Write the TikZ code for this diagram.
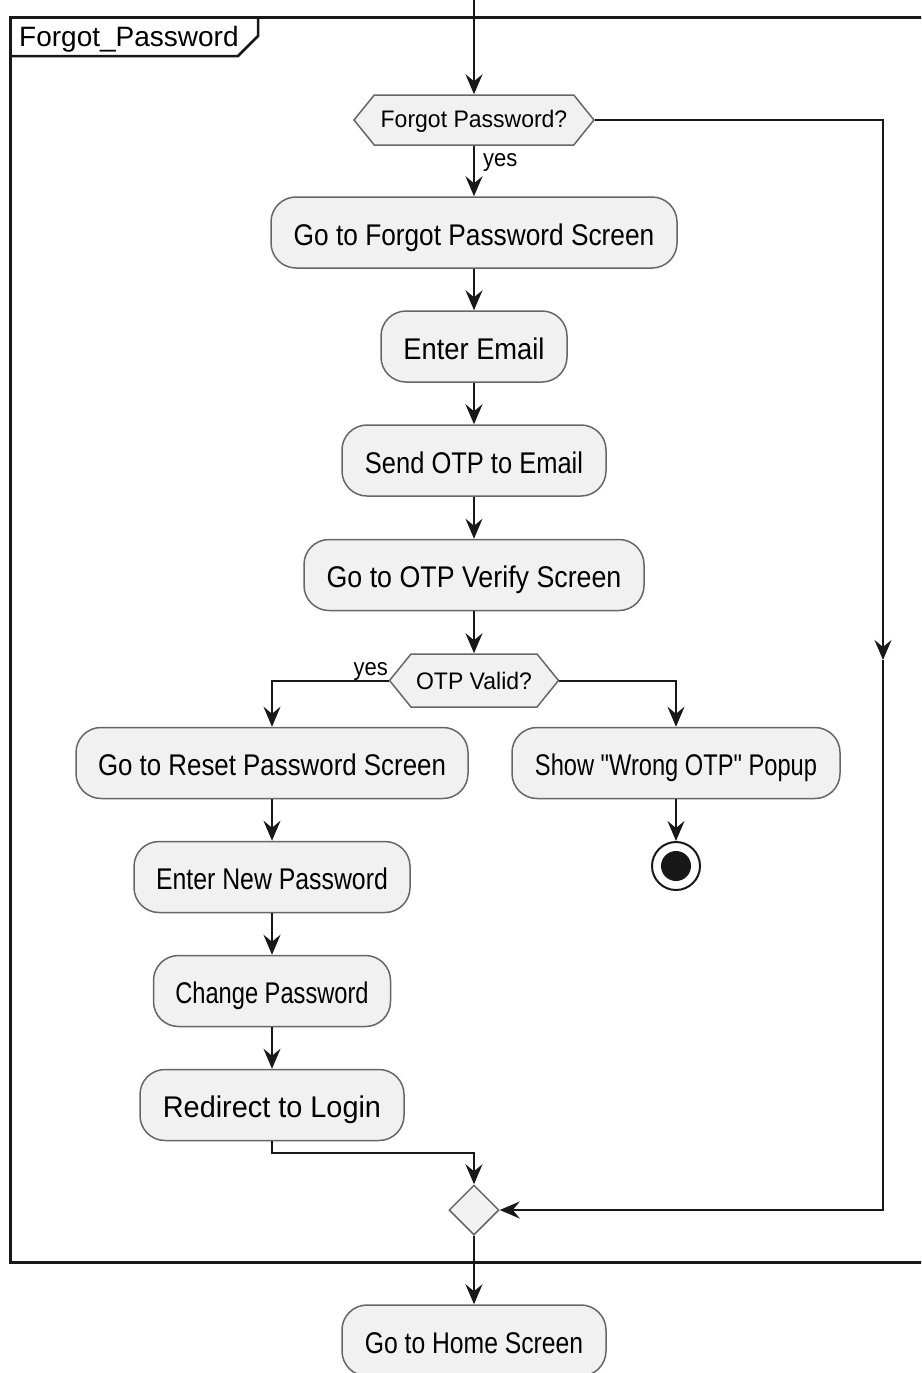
\documentclass[tikz,border=0pt]{standalone}
\usepackage{fontspec}
\setmainfont{Liberation Sans}
\usetikzlibrary{arrows.meta,shapes.symbols,shapes.geometric}
\definecolor{actfill}{HTML}{F1F1F1}
\definecolor{actline}{HTML}{181818}
\definecolor{actborder}{HTML}{666666}

% label with its own horizontal scale and a common vertical stretch
\newcommand{\hx}[2]{\scalebox{#1}[1.15]{#2}}

\begin{document}
\begin{tikzpicture}[x=1pt,y=-1pt,
  act/.style={rectangle, rounded corners=25pt, draw=actborder, line width=1.5pt,
    fill=actfill, minimum height=71pt, inner sep=0pt, text height=25pt, text depth=0pt,
    font=\fontsize{26}{30}\selectfont},
  choice/.style={signal, signal to=east and west, signal pointer angle=102,
    draw=actborder, line width=1.5pt, fill=actfill, inner sep=0pt, text depth=0pt,
    font=\fontsize{23}{27}\selectfont},
  merge/.style={diamond, draw=actborder, line width=1.5pt, fill=actfill,
    minimum width=50pt, minimum height=50pt, inner sep=0pt},
  flow/.style={draw=actline, line width=2pt, -{Stealth[length=20pt,width=17pt,inset=7pt]}},
  guard/.style={font=\fontsize{22}{26}\selectfont, inner sep=0pt},
]
\useasboundingbox (0,0) rectangle (921,1373);
\clip (0,0) rectangle (921,1373);

% partition frame with its name tab
\draw[actline, line width=3pt] (940,17) -- (10,17) -- (10,1262) -- (940,1262);
\draw[actline, line width=2.5pt] (10,56) -- (238,56) -- (258,36) -- (258,17);
\node[anchor=base west, font=\fontsize{28}{32}\selectfont, inner sep=0pt] (title) at (19,46.5) {Forgot\_Password};

% decisions
\node[choice, minimum width=240pt, minimum height=50pt, text height=15.5pt] (q1) at (474,120) {\scalebox{1}[1.04]{Forgot Password?}};
\node[choice, minimum width=169pt, minimum height=53pt, text height=17.6pt] (q2) at (474,680.5) {\scalebox{1}[1.04]{OTP Valid?}};

% actions
\node[act, minimum width=406pt] (b1) at (474,232.5) {\hx{1.01}{Go to Forgot Password Screen}};
\node[act, minimum width=186pt] (b2) at (474,346.5) {\hx{1.05}{Enter Email}};
\node[act, minimum width=264pt] (b3) at (474,460.5) {\hx{0.98}{Send OTP to Email}};
\node[act, minimum width=340pt] (b4) at (474,575) {\hx{1.03}{Go to OTP Verify Screen}};
\node[act, minimum width=392pt] (b5) at (272,763) {\hx{0.995}{Go to Reset Password Screen}};
\node[act, minimum width=328pt] (b6) at (676,763) {\hx{0.91}{Show \textquotedbl Wrong OTP\textquotedbl\ Popup}};
\node[act, minimum width=276pt] (b7) at (272,877) {\hx{0.955}{Enter New Password}};
\node[act, minimum width=237pt] (b8) at (272,991) {\hx{0.91}{Change Password}};
\node[act, minimum width=264pt] (b9) at (272,1105) {\hx{1.11}{Redirect to Login}};
\node[act, minimum width=264pt] (b10) at (474,1340.5) {\hx{0.95}{Go to Home Screen}};

% final node
\node[circle, draw=actline, line width=2pt, fill=white, minimum size=48pt, inner sep=0pt] (stop) at (676,866) {};
\node[circle, fill=actline, minimum size=30pt, inner sep=0pt] (stopdot) at (stop.center) {};

% merge
\node[merge] (m) at (474,1210) {};

% guard labels
\node[guard, anchor=base west] (g1) at (483,166) {\scalebox{1}[1.1]{yes}};
\node[guard, anchor=base east] (g2) at (388,675) {\scalebox{1}[1.1]{yes}};

% connectors
\coordinate (entry) at (474,0);
\coordinate (rdown) at (883,660);
\draw[flow] (entry) -- (q1.north);
\draw[flow] (q1.south) -- (b1.north);
\draw[flow] (q1.east) -| (rdown);
\draw[flow] (rdown) |- (m.east);
\draw[flow] (b1.south) -- (b2.north);
\draw[flow] (b2.south) -- (b3.north);
\draw[flow] (b3.south) -- (b4.north);
\draw[flow] (b4.south) -- (q2.north);
\draw[flow] (q2.west) -| (b5.north);
\draw[flow] (q2.east) -| (b6.north);
\draw[flow] (b6.south) -- (stop.north);
\draw[flow] (b5.south) -- (b7.north);
\draw[flow] (b7.south) -- (b8.north);
\draw[flow] (b8.south) -- (b9.north);
\draw[flow] (b9.south) -- ++(0,12) -| (m.north);
\draw[flow] (m.south) -- (b10.north);
\end{tikzpicture}
\end{document}
